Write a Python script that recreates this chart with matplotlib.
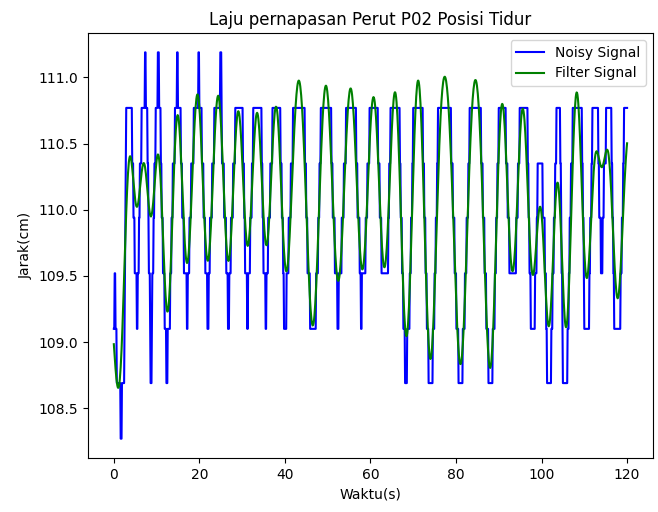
import numpy as np
import matplotlib
matplotlib.use("Agg")
import matplotlib.pyplot as plt

# Quantised distance readings of the sensor (cm)
level_cm = [108.27, 108.69, 109.10, 109.52, 109.94, 110.35, 110.77, 111.19]

# Noisy signal as a step sequence: time (s) where the reading changes, and the new level index
step_time_s = [
    0.0, 0.2, 0.4, 0.7, 1.6, 1.9, 2.5, 2.6, 2.7, 2.8,
    2.9, 4.3, 4.6, 4.85, 5.35, 5.55, 5.9, 6.1, 6.5, 7.3,
    7.5, 7.9, 8.05, 8.2, 8.5, 8.6, 8.85, 8.95, 9.3, 9.5,
    9.8, 10.3, 10.6, 11.0, 11.2, 11.5, 11.9, 12.3, 12.55, 13.2,
    13.5, 13.8, 14.3, 14.8, 15.0, 15.7, 16.0, 16.4, 17.1, 17.3,
    17.7, 18.1, 18.7, 19.8, 20.0, 20.6, 21.0, 21.4, 21.9, 22.2,
    22.5, 23.0, 23.5, 24.9, 25.15, 25.3, 25.8, 26.3, 26.7, 26.95,
    27.4, 27.9, 28.4, 30.2, 30.45, 30.7, 31.2, 31.4, 31.9, 32.25,
    32.6, 34.6, 34.8, 35.0, 35.5, 35.7, 36.1, 36.6, 37.1, 39.0,
    39.3, 39.6, 39.8, 40.4, 40.9, 41.4, 41.9, 44.7, 45.0, 45.3,
    45.9, 47.3, 47.75, 48.1, 48.4, 50.9, 51.2, 51.7, 52.3, 52.6,
    53.3, 53.8, 54.3, 56.7, 57.0, 57.5, 57.8, 58.0, 58.9, 59.3,
    59.8, 61.8, 62.2, 62.6, 64.2, 64.4, 64.7, 66.9, 67.1, 67.4,
    67.7, 68.1, 68.6, 69.2, 69.5, 69.75, 70.0, 72.3, 72.6, 72.9,
    73.2, 73.6, 74.6, 75.0, 75.3, 75.55, 75.8, 78.9, 79.3, 79.7,
    80.1, 80.6, 81.6, 82.1, 82.5, 82.85, 83.2, 85.9, 86.3, 86.7,
    87.1, 87.6, 88.6, 89.1, 89.4, 89.7, 90.0, 91.7, 92.1, 92.5,
    94.1, 94.5, 94.9, 96.8, 97.0, 97.2, 97.5, 98.5, 98.9, 99.1,
    100.3, 100.8, 101.1, 101.3, 102.3, 102.6, 102.9, 103.2, 103.5, 104.4,
    104.55, 104.7, 104.85, 105.0, 106.1, 106.35, 106.6, 106.9, 107.3, 109.5,
    109.7, 109.85, 110.0, 111.2, 111.4, 111.65, 111.9, 113.3, 113.5, 113.9,
    114.3, 114.6, 115.1, 116.4, 116.6, 116.8, 117.0, 118.5, 118.8, 119.05,
    119.3,
]
step_level = [
    2, 3, 2, 1, 0, 1, 2, 3, 4, 5,
    6, 5, 4, 3, 2, 3, 4, 5, 6, 7,
    6, 5, 4, 3, 2, 1, 2, 3, 4, 5,
    6, 7, 6, 5, 4, 3, 2, 1, 2, 3,
    4, 5, 6, 7, 6, 5, 4, 3, 2, 3,
    4, 5, 6, 7, 6, 5, 4, 3, 2, 3,
    4, 5, 6, 7, 6, 5, 4, 3, 2, 3,
    4, 5, 6, 5, 4, 3, 2, 3, 4, 5,
    6, 5, 4, 3, 2, 3, 4, 5, 6, 5,
    4, 3, 2, 3, 4, 5, 6, 5, 4, 3,
    2, 3, 4, 5, 6, 5, 4, 3, 2, 3,
    4, 5, 6, 5, 4, 3, 2, 3, 4, 5,
    6, 5, 4, 3, 4, 5, 6, 5, 4, 3,
    2, 1, 2, 3, 4, 5, 6, 5, 4, 3,
    2, 1, 2, 3, 4, 5, 6, 5, 4, 3,
    2, 1, 2, 3, 4, 5, 6, 5, 4, 3,
    2, 1, 2, 3, 4, 5, 6, 5, 4, 3,
    4, 5, 6, 5, 4, 3, 2, 3, 4, 5,
    4, 3, 2, 1, 2, 3, 4, 5, 6, 5,
    4, 3, 2, 1, 2, 3, 4, 5, 6, 5,
    4, 3, 2, 3, 4, 5, 6, 5, 4, 3,
    4, 5, 6, 5, 4, 3, 2, 3, 4, 5,
    6,
]

sample_period_s = 0.1
duration_s = 120.0
cutoff_hz = 0.25
filter_order = 4


def butter_lowpass(order, fc, fs):
    """Digital Butterworth low-pass via the bilinear transform."""
    wa = 2.0 * fs * np.tan(np.pi * fc / fs)
    k = np.arange(1, order + 1)
    poles_a = wa * np.exp(1j * np.pi * (2 * k + order - 1) / (2 * order))
    fs2 = 2.0 * fs
    poles_d = (fs2 + poles_a) / (fs2 - poles_a)
    zeros_d = -np.ones(order)
    gain = np.real(wa ** order / np.prod(fs2 - poles_a))
    b = np.real(gain * np.poly(zeros_d))
    a = np.real(np.poly(poles_d))
    return b, a


def lfilter(b, a, x, zi):
    n = len(a)
    z = zi.astype(float).copy()
    y = np.empty_like(x)
    for i, xi in enumerate(x):
        yi = b[0] * xi + z[0]
        for j in range(n - 2):
            z[j] = b[j + 1] * xi + z[j + 1] - a[j + 1] * yi
        z[n - 2] = b[n - 1] * xi - a[n - 1] * yi
        y[i] = yi
    return y


def lfilter_zi(b, a):
    n = len(a)
    comp = np.zeros((n - 1, n - 1))
    comp[0, :] = -a[1:] / a[0]
    comp[1:, :-1] += np.eye(n - 2)
    i_minus_a = np.eye(n - 1) - comp.T
    rhs = b[1:] - a[1:] * b[0]
    return np.linalg.solve(i_minus_a, rhs)


def filtfilt(b, a, x):
    pad = 3 * max(len(a), len(b))
    ext = np.concatenate((2 * x[0] - x[pad:0:-1], x, 2 * x[-1] - x[-2:-pad - 2:-1]))
    zi = lfilter_zi(b, a)
    y = lfilter(b, a, ext, zi * ext[0])
    y = lfilter(b, a, y[::-1], zi * y[-1])[::-1]
    return y[pad:-pad]


t = np.arange(0.0, duration_s + sample_period_s / 2, sample_period_s)
idx = np.searchsorted(np.asarray(step_time_s), t + 1e-9, side="right") - 1
noisy = np.asarray(level_cm)[np.asarray(step_level)[idx]]

b, a = butter_lowpass(filter_order, cutoff_hz, 1.0 / sample_period_s)
filtered = filtfilt(b, a, noisy)

fig = plt.figure(figsize=(6.58, 5.12), dpi=100)
ax = fig.add_axes([0.134, 0.1055, 0.858, 0.83])
ax.plot(t, noisy, color="b", label="Noisy Signal")
ax.plot(t, filtered, color="g", label="Filter Signal")
ax.set_title("Laju pernapasan Perut P02 Posisi Tidur")
ax.set_xlabel("Waktu(s)")
ax.set_ylabel("Jarak(cm)")
ax.set_yticks([108.5, 109.0, 109.5, 110.0, 110.5, 111.0])
ax.legend(loc="upper right")
fig.savefig("out.png", dpi=100)
